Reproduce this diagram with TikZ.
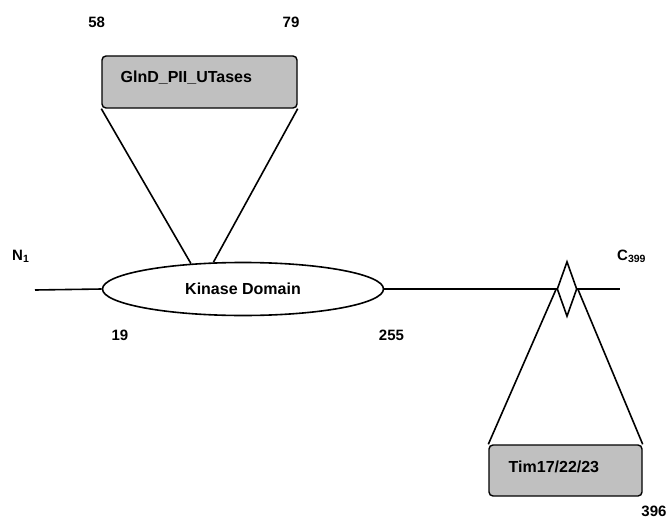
\documentclass[tikz,border=0pt]{standalone}
\usepackage{fontspec}
\setmainfont{Liberation Sans}
\usetikzlibrary{shapes.geometric}
\begin{document}
\begin{tikzpicture}[x=1pt,y=-1pt,
  line/.style={line width=1.6pt, black},
  domainbox/.style={draw, line width=1.4pt, fill=boxgray, rounded corners=4pt, inner sep=0pt, minimum width=#1},
  boxtext/.style={anchor=base west, inner sep=0pt, font=\fontsize{16}{19}\selectfont\bfseries},
  numlabel/.style={inner sep=0pt, font=\fontsize{15}{18}\selectfont\bfseries}]
\definecolor{boxgray}{RGB}{192,192,192}
\useasboundingbox (0,0) rectangle (669,519);
% main line
\coordinate (nend) at (35,290);
\coordinate (cend) at (620,289);
\node[draw, line width=1.6pt, fill=white, ellipse, minimum width=281pt, minimum height=53pt, inner sep=0pt,
      font=\fontsize{16}{19}\selectfont\bfseries] (kd) at (243,289) {Kinase Domain};
\draw[line] (nend) -- (kd.west);
\draw[line] (kd.east) -- (cend);
\node[draw, line width=1.6pt, fill=white, diamond, minimum width=20pt, minimum height=55pt, inner sep=0pt,
      aspect=0.36] (dm) at (567,289) {};
% top box
\node[domainbox=195pt, minimum height=52pt] (gln) at (199.5,82) {};
\node[boxtext] (glnt) at (120.5,82) {GlnD\_PII\_UTases};
\draw[line] (gln.south west) -- (kd.154);
\draw[line] (gln.south east) -- (kd.138);
% bottom box
\node[domainbox=153pt, minimum height=51pt] (tim) at (565.5,470.5) {};
\node[boxtext] (timt) at (508.5,472) {Tim17/22/23};
\draw[line] (dm.west) -- (tim.north west);
\draw[line] (dm.east) -- (tim.north east);
% labels
\node[numlabel] (l58) at (96.7,22.5) {58};
\node[numlabel] (l79) at (291,22.5) {79};
\node[numlabel] (l19) at (120,335) {19};
\node[numlabel] (l255) at (391.5,335) {255};
\node[numlabel] (l396) at (654,511.5) {396};
\node[numlabel, anchor=base west] (ln) at (12,260) {N\textsubscript{1}};
\node[numlabel, anchor=base west] (lc) at (617,260) {C\textsubscript{399}};
\end{tikzpicture}
\end{document}
